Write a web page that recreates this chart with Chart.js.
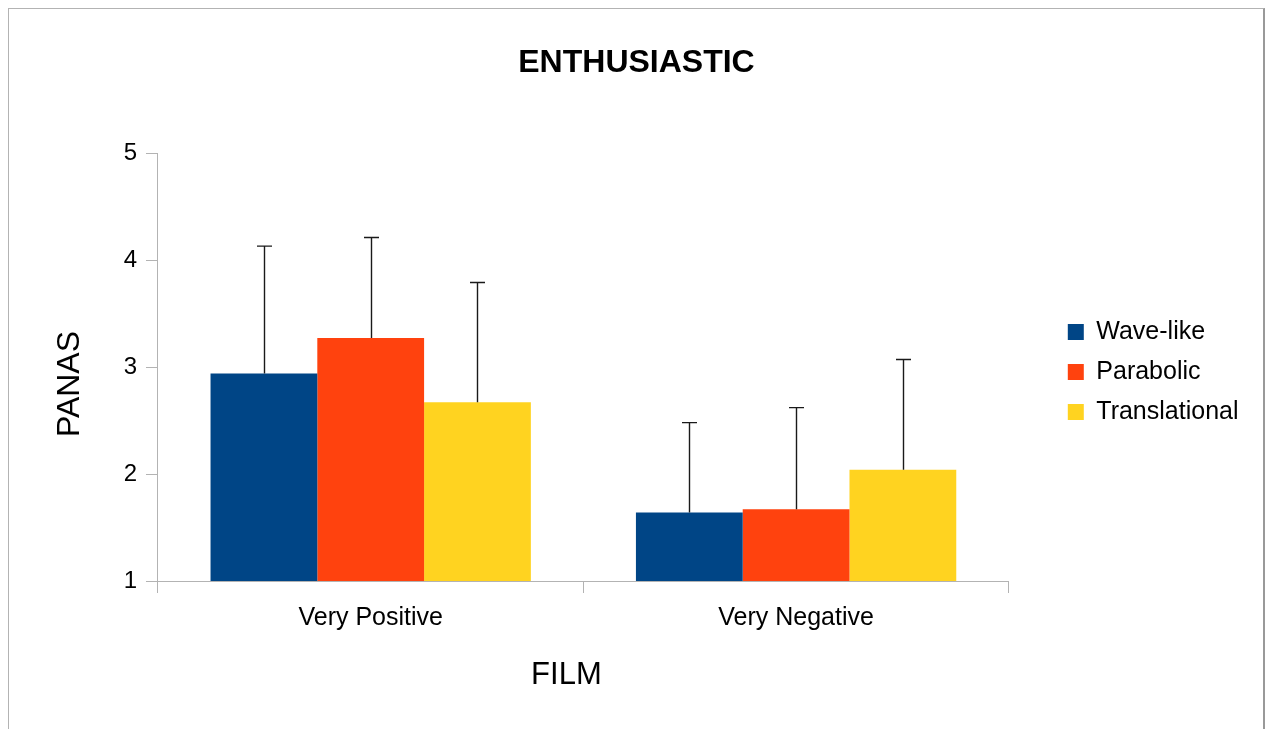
<!DOCTYPE html>
<html>
<head>
<meta charset="utf-8">
<script src="https://cdn.jsdelivr.net/npm/chart.js@4.4.1/dist/chart.umd.min.js"></script>
<style>
  html, body { margin: 0; padding: 0; background: #ffffff; overflow: hidden; }
  #wrap { position: relative; width: 1267px; height: 729px; }
  #frame { position: absolute; left: 8px; top: 8px; width: 1254px; height: 800px;
           border-left: 1px solid #b3b3b3; border-top: 1px solid #b3b3b3; border-right: 2px solid #999999;
           pointer-events: none; }
  canvas { position: absolute; left: 0; top: 0; }
</style>
</head>
<body>
<div id="wrap">
  <canvas id="c" width="1267" height="729"></canvas>
  <div id="frame"></div>
</div>
<script>
const categories = ["Very Positive", "Very Negative"];
const seriesNames = ["Wave-like", "Parabolic", "Translational"];
const waveLike = [2.94, 1.64];
const parabolic = [3.27, 1.67];
const translational = [2.67, 2.04];
const waveLikeErr = [1.19, 0.84];
const parabolicErr = [0.94, 0.95];
const translationalErr = [1.12, 1.03];
const yTicks = [1, 2, 3, 4, 5];
const xTitle = "FILM";
const yTitle = "PANAS";
const colors = ["#004586", "#ff420e", "#ffd320"];

const FONT = "'Liberation Sans', Arial, sans-serif";

const errorBars = {
  id: 'errorBars',
  afterDatasetsDraw(chart) {
    const ctx = chart.ctx;
    const y = chart.scales.y;
    ctx.save();
    ctx.strokeStyle = '#1a1a1a';
    ctx.lineWidth = 1.4;
    chart.data.datasets.forEach((ds, di) => {
      const meta = chart.getDatasetMeta(di);
      meta.data.forEach((bar, i) => {
        const v = ds.data[i];
        const e = ds.errors[i];
        const yTop = y.getPixelForValue(v + e);
        const yBase = y.getPixelForValue(v);
        const x = Math.round(bar.x) + 0.5;
        ctx.beginPath();
        ctx.moveTo(x, yBase);
        ctx.lineTo(x, yTop);
        ctx.moveTo(x - 7.5, yTop);
        ctx.lineTo(x + 7.5, yTop);
        ctx.stroke();
      });
    });
    ctx.restore();
  }
};

// Axis titles: space is reserved by the scales' own (transparent) titles,
// the visible text is drawn slightly off-centre like the original.
const axisTitles = {
  id: 'axisTitles',
  afterDraw(chart) {
    const ctx = chart.ctx;
    const xs = chart.scales.x, ys = chart.scales.y;
    ctx.save();
    ctx.fillStyle = '#000000';
    ctx.textAlign = 'center';
    ctx.textBaseline = 'middle';
    ctx.font = "31px " + FONT;
    const xCenter = (xs.left + xs.right) / 2 - 17;
    const xY = xs.bottom - (31 * 1.2 / 2 + 30.4);
    ctx.fillText(xTitle, xCenter, xY);
    ctx.font = "32px " + FONT;
    const yCenter = (ys.top + ys.bottom) / 2 + 17;
    const yX = ys.left + 45.5;
    ctx.translate(yX, yCenter);
    ctx.rotate(-Math.PI / 2);
    ctx.fillText(yTitle, 0, 0);
    ctx.restore();
  }
};

new Chart(document.getElementById('c'), {
  type: 'bar',
  data: {
    labels: categories,
    datasets: [
      { label: seriesNames[0], data: waveLike, errors: waveLikeErr, backgroundColor: colors[0] },
      { label: seriesNames[1], data: parabolic, errors: parabolicErr, backgroundColor: colors[1] },
      { label: seriesNames[2], data: translational, errors: translationalErr, backgroundColor: colors[2] }
    ]
  },
  options: {
    responsive: false,
    animation: false,
    devicePixelRatio: 1,
    layout: { padding: { top: 20, bottom: 5, left: 24.5, right: 18.5 } },
    datasets: { bar: { barPercentage: 1.0, categoryPercentage: 0.753, borderWidth: 0 } },
    plugins: {
      title: {
        display: true,
        text: 'ENTHUSIASTIC',
        color: '#000000',
        font: { family: FONT, size: 32, weight: 'bold' },
        padding: { top: 24, bottom: 70.6 }
      },
      legend: {
        position: 'right',
        labels: {
          boxWidth: 16,
          boxHeight: 16,
          padding: 15,
          color: '#000000',
          font: { family: FONT, size: 25 }
        }
      },
      tooltip: { enabled: false }
    },
    scales: {
      x: {
        grid: { display: true, drawOnChartArea: false, drawTicks: true, tickLength: 12, color: '#b3b3b3', offset: true },
        border: { display: true, color: '#b3b3b3', width: 1 },
        ticks: { color: '#000000', padding: 10, font: { family: FONT, size: 25 } },
        title: { display: true, text: xTitle, color: 'rgba(0,0,0,0)', font: { family: FONT, size: 31 }, padding: { top: 13.4, bottom: 30.4 } }
      },
      y: {
        min: 1, max: 5,
        afterBuildTicks(scale) { scale.ticks = yTicks.map(v => ({ value: v })); },
        grid: { display: true, drawOnChartArea: false, drawTicks: true, tickLength: 12, color: '#b3b3b3' },
        border: { display: true, color: '#b3b3b3', width: 1 },
        ticks: { color: '#000000', padding: 9, font: { family: FONT, size: 24 } },
        title: { display: true, text: yTitle, color: 'rgba(0,0,0,0)', font: { family: FONT, size: 32 }, padding: { top: 20, bottom: 31.75 } }
      },
      gap: {
        position: 'right',
        display: true,
        grid: { display: false },
        border: { display: false },
        ticks: { display: false },
        afterFit(scale) { scale.width = 44; }
      }
    }
  },
  plugins: [errorBars, axisTitles]
});
</script>
</body>
</html>
